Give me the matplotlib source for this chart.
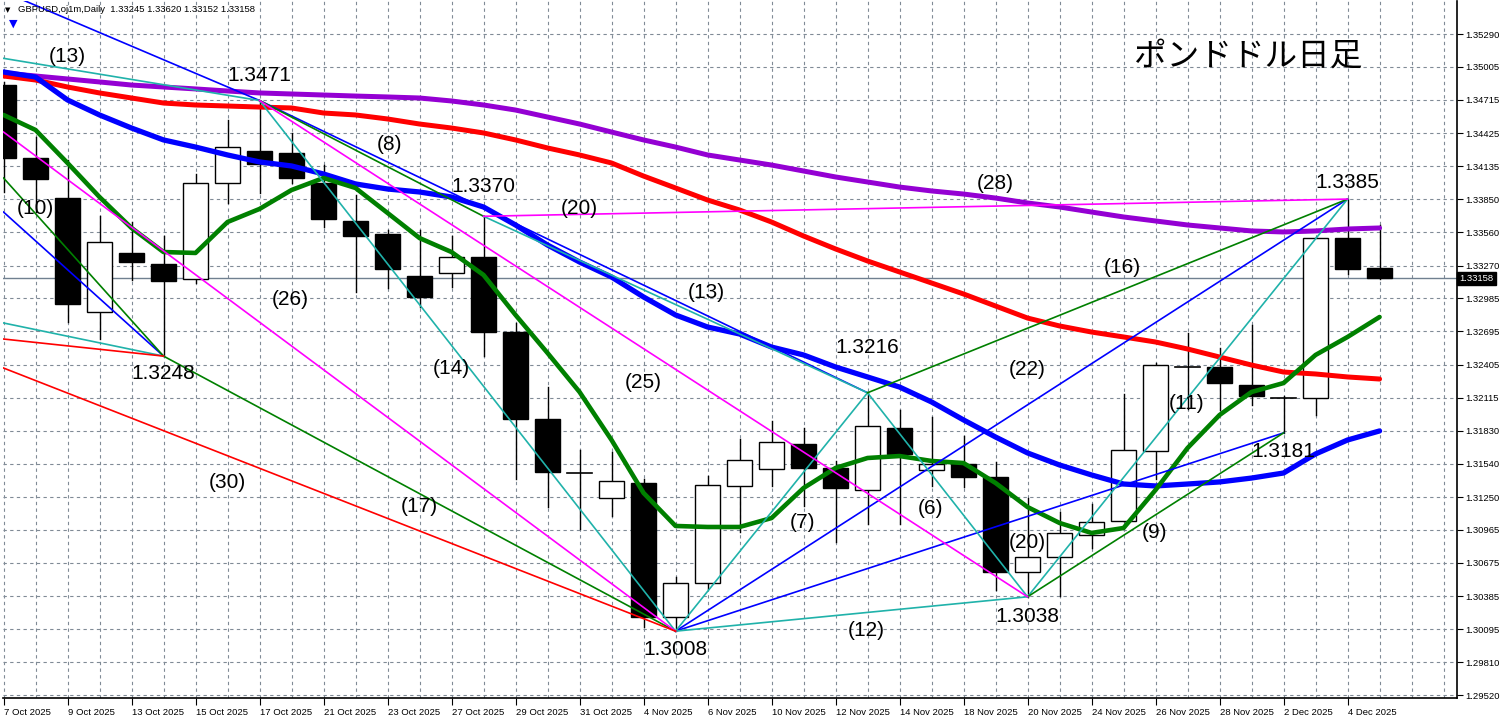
import matplotlib
matplotlib.use("Agg")
import matplotlib.pyplot as plt
from matplotlib.transforms import blended_transform_factory

# ---- data --------------------------------------------------------------
dates = ["7 Oct 2025", "8 Oct 2025", "9 Oct 2025", "10 Oct 2025", "13 Oct 2025",
         "14 Oct 2025", "15 Oct 2025", "16 Oct 2025", "17 Oct 2025", "20 Oct 2025",
         "21 Oct 2025", "22 Oct 2025", "23 Oct 2025", "24 Oct 2025", "27 Oct 2025",
         "28 Oct 2025", "29 Oct 2025", "30 Oct 2025", "31 Oct 2025", "3 Nov 2025",
         "4 Nov 2025", "5 Nov 2025", "6 Nov 2025", "7 Nov 2025", "10 Nov 2025",
         "11 Nov 2025", "12 Nov 2025", "13 Nov 2025", "14 Nov 2025", "17 Nov 2025",
         "18 Nov 2025", "19 Nov 2025", "20 Nov 2025", "21 Nov 2025", "24 Nov 2025",
         "25 Nov 2025", "26 Nov 2025", "27 Nov 2025", "28 Nov 2025", "1 Dec 2025",
         "2 Dec 2025", "3 Dec 2025", "4 Dec 2025", "5 Dec 2025"]

opens = [1.34846, 1.34210, 1.33861, 1.32868, 1.33382, 1.33287, 1.33156, 1.33992, 1.34271, 1.34253,
         1.33992, 1.33661, 1.33548, 1.33182, 1.33208, 1.33347, 1.32694, 1.31928, 1.31462, 1.31240,
         1.31370, 1.30203, 1.30499, 1.31344, 1.31492, 1.31710, 1.31501, 1.31309, 1.31849, 1.31484,
         1.31536, 1.31423, 1.30595, 1.30726, 1.30917, 1.31039, 1.31649, 1.32389, 1.32389, 1.32224,
         1.32111, 1.32111, 1.33513, 1.33245]
highs = [1.34870, 1.34393, 1.34192, 1.33705, 1.33652, 1.33530, 1.34070, 1.34541, 1.34710, 1.34428,
         1.34149, 1.33888, 1.33583, 1.33583, 1.33530, 1.33700, 1.32773, 1.32207, 1.31658, 1.31640,
         1.31405, 1.30552, 1.31431, 1.31754, 1.31910, 1.31849, 1.31562, 1.32160, 1.32006, 1.31945,
         1.31780, 1.31553, 1.31240, 1.31118, 1.31187, 1.32146, 1.32424, 1.32685, 1.32555, 1.32755,
         1.32128, 1.33520, 1.33850, 1.33620]
lows = [1.33910, 1.33740, 1.32781, 1.32625, 1.33147, 1.32480, 1.33121, 1.33818, 1.33905, 1.33992,
        1.33609, 1.33043, 1.33078, 1.32912, 1.33086, 1.32477, 1.31405, 1.31161, 1.30970, 1.31083,
        1.30116, 1.30080, 1.30447, 1.30943, 1.31344, 1.31170, 1.30856, 1.31013, 1.31013, 1.31344,
        1.31335, 1.30438, 1.30380, 1.30386, 1.30804, 1.31039, 1.31405, 1.32015, 1.32006, 1.32050,
        1.31810, 1.31963, 1.33200, 1.33152]
closes = [1.34210, 1.34027, 1.32938, 1.33478, 1.33304, 1.33138, 1.33992, 1.34306, 1.34158, 1.34036,
          1.33679, 1.33530, 1.33243, 1.32999, 1.33347, 1.32694, 1.31928, 1.31466, 1.31462, 1.31388,
          1.30203, 1.30499, 1.31353, 1.31571, 1.31727, 1.31501, 1.31327, 1.31867, 1.31623, 1.31536,
          1.31423, 1.30595, 1.30726, 1.30935, 1.31031, 1.31658, 1.32398, 1.32389, 1.32241, 1.32128,
          1.32111, 1.33513, 1.33243, 1.33158]

ma_green = [1.34584, 1.34453, 1.34165, 1.33868, 1.33598, 1.33388, 1.33380, 1.33650, 1.33764, 1.33929,
            1.34034, 1.33947, 1.33729, 1.33510, 1.33388, 1.33188, 1.32839, 1.32507, 1.32167, 1.31748,
            1.31286, 1.30998, 1.30989, 1.30989, 1.31067, 1.31329, 1.31504, 1.31591, 1.31608, 1.31565,
            1.31547, 1.31373, 1.31163, 1.31024, 1.30937, 1.30980, 1.31312, 1.31678, 1.31966, 1.32167,
            1.32245, 1.32490, 1.32647, 1.32821]
ma_blue = [1.34959, 1.34915, 1.34715, 1.34584, 1.34470, 1.34366, 1.34304, 1.34235, 1.34174, 1.34139,
           1.34069, 1.33982, 1.33938, 1.33912, 1.33868, 1.33781, 1.33624, 1.33449, 1.33301, 1.33170,
           1.32996, 1.32839, 1.32734, 1.32673, 1.32559, 1.32490, 1.32385, 1.32298, 1.32210, 1.32080,
           1.31923, 1.31774, 1.31635, 1.31530, 1.31443, 1.31364, 1.31347, 1.31364, 1.31382, 1.31416,
           1.31460, 1.31626, 1.31748, 1.31827]
ma_red = [1.34924, 1.34889, 1.34828, 1.34776, 1.34732, 1.34688, 1.34671, 1.34662, 1.34653, 1.34645,
          1.34601, 1.34584, 1.34549, 1.34505, 1.34470, 1.34427, 1.34366, 1.34296, 1.34235, 1.34165,
          1.34051, 1.33947, 1.33842, 1.33755, 1.33650, 1.33528, 1.33415, 1.33310, 1.33214, 1.33118,
          1.33022, 1.32917, 1.32812, 1.32743, 1.32690, 1.32647, 1.32603, 1.32542, 1.32472, 1.32402,
          1.32341, 1.32324, 1.32298, 1.32280]
ma_purple = [1.34950, 1.34924, 1.34898, 1.34872, 1.34845, 1.34828, 1.34811, 1.34793, 1.34776, 1.34767,
             1.34758, 1.34749, 1.34741, 1.34732, 1.34706, 1.34671, 1.34627, 1.34566, 1.34505, 1.34435,
             1.34366, 1.34304, 1.34235, 1.34191, 1.34147, 1.34095, 1.34043, 1.33999, 1.33955, 1.33921,
             1.33894, 1.33859, 1.33816, 1.33781, 1.33737, 1.33694, 1.33659, 1.33624, 1.33598, 1.33572,
             1.33563, 1.33572, 1.33589, 1.33598]

price_ticks = [1.35290, 1.35005, 1.34715, 1.34425, 1.34135, 1.33850, 1.33560, 1.33270, 1.32985,
               1.32695, 1.32405, 1.32115, 1.31830, 1.31540, 1.31250, 1.30965, 1.30675, 1.30385,
               1.30095, 1.29810, 1.29520]
last_price = 1.33158

# swing points (bar index, price); "L*" are where older lines enter at the left edge
pivots = {
    "A": (8, 1.3471), "B": (5, 1.3248), "C": (15, 1.3370), "D": (21, 1.3008),
    "E": (27, 1.3216), "F": (32, 1.3038), "G": (40, 1.3181), "H": (42, 1.3385),
    "L1": (0, 1.35659), "L2": (0, 1.35078), "L3": (0, 1.33737), "L4": (0, 1.34034),
    "L5": (0, 1.32769), "L6": (0, 1.32629), "L7": (0, 1.32376), "L8": (0, 1.34435),
}
trend_lines = [
    ("L1", "A", "#0000ff"), ("A", "E", "#0000ff"), ("D", "H", "#0000ff"), ("D", "G", "#0000ff"),
    ("L3", "B", "#0000ff"),
    ("L2", "A", "#20b2aa"), ("L5", "B", "#20b2aa"), ("A", "D", "#20b2aa"), ("C", "E", "#20b2aa"),
    ("D", "E", "#20b2aa"), ("D", "F", "#20b2aa"), ("E", "F", "#20b2aa"), ("F", "H", "#20b2aa"),
    ("L4", "B", "#008000"), ("A", "C", "#008000"), ("B", "D", "#008000"), ("E", "H", "#008000"),
    ("F", "G", "#008000"),
    ("L8", "D", "#ff00ff"), ("A", "F", "#ff00ff"), ("C", "H", "#ff00ff"),
    ("L6", "B", "#ff0000"), ("L7", "D", "#ff0000"),
]

# chart notes: text, bar position, price position
notes = [
    ("(13)", 1.98, 1.35090), ("1.3471", 8.0, 1.34924), ("(10)", 1.0, 1.33772),
    ("(8)", 12.05, 1.34322), ("1.3370", 15.0, 1.33964), ("(20)", 18.0, 1.33764),
    ("(28)", 31.0, 1.33990), ("1.3385", 42.0, 1.33999), ("(26)", 8.95, 1.32978),
    ("(13)", 21.95, 1.33039), ("(16)", 34.95, 1.33249), ("1.3248", 4.98, 1.32332),
    ("(14)", 13.98, 1.32375), ("(25)", 19.98, 1.32253), ("1.3216", 26.98, 1.32551),
    ("(22)", 31.98, 1.32366), ("(11)", 36.98, 1.32070), ("1.3181", 40.0, 1.31652),
    ("(30)", 7.0, 1.31373), ("(17)", 13.0, 1.31172), ("(7)", 24.98, 1.31024),
    ("(6)", 28.98, 1.31146), ("(9)", 35.98, 1.30945), ("(20)", 32.0, 1.30858),
    ("1.3038", 31.98, 1.30212), ("(12)", 26.95, 1.30090), ("1.3008", 21.0, 1.29916),
]

# ---- drawing -------------------------------------------------------------
W, H = 1503, 718
fig = plt.figure(figsize=(W / 100, H / 100), dpi=100)
ax = fig.add_axes([3 / W, 1 - 698 / H, 1454 / W, 697 / H])
ax.set_xlim(-0.016, 45.42)
ax.set_ylim(1.294969, 1.355783)

grid_col = "#808b96"
for p in price_ticks:
    ax.axhline(p, color=grid_col, lw=0.8, ls=(0, (3, 3)), zorder=0)
for i in range(46):
    ax.axvline(i, color=grid_col, lw=0.8, ls=(0, (3, 3)), zorder=0)

ax.axhline(last_price, color="#708090", lw=1.0, zorder=1)

bw = 0.76
for i in range(len(opens)):
    o, h, l, c = opens[i], highs[i], lows[i], closes[i]
    ax.plot([i, i], [l, h], color="black", lw=1.0, zorder=2)
    if abs(c - o) < 0.00003:
        ax.plot([i - bw / 2, i + bw / 2], [o, o], color="black", lw=1.2, zorder=3)
    else:
        face = "white" if c > o else "black"
        ax.add_patch(plt.Rectangle((i - bw / 2, min(o, c)), bw, abs(c - o),
                                   facecolor=face, edgecolor="black", lw=1.0, zorder=3))

x = list(range(len(opens)))
ax.plot(x, ma_purple, color="#9400d3", lw=3.6, solid_capstyle="round", zorder=4)
ax.plot(x, ma_red, color="#ff0000", lw=3.6, solid_capstyle="round", zorder=4)
ax.plot(x, ma_blue, color="#0000ff", lw=3.8, solid_capstyle="round", zorder=4)
ax.plot(x, ma_green, color="#008000", lw=3.3, solid_capstyle="round", zorder=4)

for a, b, col in trend_lines:
    xa, ya = pivots[a]
    xb, yb = pivots[b]
    ax.plot([xa, xb], [ya, yb], color=col, lw=1.2, zorder=5)

for t, bx, py in notes:
    ax.text(bx, py, t, fontsize=15, family="Liberation Sans", ha="center", va="center",
            color="black", zorder=6)

ax.text(0.8563, 0.9197, "ポンドドル日足", transform=ax.transAxes, fontsize=23.5,
        family=["Noto Sans CJK JP", "DejaVu Sans"], ha="center", va="center", zorder=6)

# axes & ticks (price scale on the right, dates below)
ax.spines["top"].set_visible(False)
ax.spines["left"].set_visible(False)
for s in ("right", "bottom"):
    ax.spines[s].set_color("black")
    ax.spines[s].set_linewidth(1.2)
ax.yaxis.tick_right()
ax.set_yticks(price_ticks)
ax.set_yticklabels(["%.5f" % p for p in price_ticks])
ax.tick_params(axis="y", length=4, width=0.8, pad=2, labelsize=6.8, colors="black")
ax.set_xticks(range(0, len(dates), 2))
ax.set_xticklabels(dates[::2], ha="left")
ax.tick_params(axis="x", length=5, width=0.8, pad=2, labelsize=6.8)
for lab in ax.get_xticklabels() + ax.get_yticklabels():
    lab.set_family("Liberation Sans")

tr = blended_transform_factory(ax.transAxes, ax.transData)
ax.text(1.0015, last_price, "%.5f" % last_price, transform=tr, fontsize=6.8,
        family="Liberation Sans", color="white", ha="left", va="center",
        bbox=dict(facecolor="black", edgecolor="black", boxstyle="square,pad=0.25"),
        clip_on=False, zorder=7)

# header
fig.text(8 / W, 1 - 10 / H, "▼", fontsize=5, ha="center", va="center", color="black")
fig.text(18 / W, 1 - 10 / H, "GBPUSD,oj1m,Daily  1.33245 1.33620 1.33152 1.33158",
         fontsize=6.8, family="Liberation Sans", ha="left", va="center")
fig.text(13 / W, 1 - 24 / H, "▼", fontsize=8, ha="center", va="center", color="#0000ff")

fig.savefig("out.png", dpi=100)
